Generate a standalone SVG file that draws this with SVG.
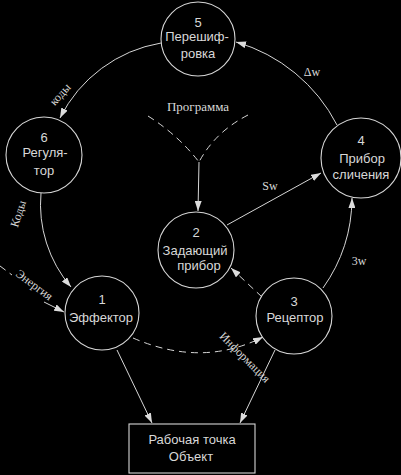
<svg xmlns="http://www.w3.org/2000/svg" width="401" height="475" viewBox="0 0 401 475">
<defs>
<marker id="ah" viewBox="0 0 10 7" refX="10" refY="3.5" markerWidth="10" markerHeight="7" markerUnits="userSpaceOnUse" orient="auto">
<path d="M0,0 L10,3.5 L0,7 z" fill="#dcdcdc"/>
</marker>
<style>
.n{fill:none;stroke:#d6d6d6;stroke-width:1.1}
.c{fill:none;stroke:#d6d6d6;stroke-width:1}
.d{stroke-dasharray:7 5}
.t{font-family:"Liberation Sans",Arial,sans-serif;font-size:13px;fill:#d8d8d8;text-anchor:middle}
.l{font-family:"Liberation Serif","Times New Roman",serif;font-size:12px;fill:#d8d8d8;text-anchor:middle}
</style>
</defs>
<rect x="0" y="0" width="401" height="475" fill="#000"/>
<g id="connectors">
<path class="c" d="M161 43 A139 139 0 0 0 60 118" marker-end="url(#ah)"/>
<path class="c" d="M337 125 A165 165 0 0 0 236 42" marker-end="url(#ah)"/>
<path class="c" d="M41 193 A127 127 0 0 0 71 287" marker-end="url(#ah)"/>
<path class="c" d="M323 288 A157 157 0 0 0 352 198" marker-end="url(#ah)"/>
<path class="c" d="M227 225 L321 173" marker-end="url(#ah)"/>
<path class="c d" d="M262 297 L231 268" marker-end="url(#ah)"/>
<path class="c d" d="M133 338 Q202 368 263 337" marker-end="url(#ah)"/>
<path class="c" d="M199 162 L198 211" marker-end="url(#ah)"/>
<path class="c d" d="M148 116 Q178 135 199 162"/>
<path class="c d" d="M248 115 Q215 132 199 162"/>
<path class="c d" d="M0 266 L12 275"/>
<path class="c" d="M44 302 L64 312" marker-end="url(#ah)"/>
<path class="c" d="M117 350 L152 423" marker-end="url(#ah)"/>
<path class="c" d="M275 350 L240 423" marker-end="url(#ah)"/>
</g>
<g id="labels">
<text class="l" x="312" y="76">Δw</text>
<text class="l" x="270" y="190">Sw</text>
<text class="l" x="359" y="265">3w</text>
<text class="l" x="198" y="111" style="font-size:13px">Программа</text>
<text class="l" transform="translate(22,215) rotate(-72)">Коды</text>
<text class="l" transform="translate(63,97) rotate(-48)">коды</text>
<text class="l" transform="translate(32,288) rotate(37)">Энергия</text>
<text class="l" transform="translate(242,360) rotate(45)">Информация</text>
</g>
<g id="n5"><circle class="n" cx="198" cy="39" r="37"/><text class="t" x="198" y="27">5</text><text class="t" x="197" y="41">Перешиф-</text><text class="t" x="198" y="58">ровка</text></g>
<g id="n6"><circle class="n" cx="44" cy="155" r="38"/><text class="t" x="44" y="142">6</text><text class="t" x="45" y="157">Регуля-</text><text class="t" x="44" y="175">тор</text></g>
<g id="n4"><circle class="n" cx="361" cy="158" r="40"/><text class="t" x="361" y="145">4</text><text class="t" x="362" y="163">Прибор</text><text class="t" x="361" y="179">сличения</text></g>
<g id="n2"><circle class="n" cx="196" cy="250" r="38"/><text class="t" x="196" y="237">2</text><text class="t" x="195" y="255">Задающий</text><text class="t" x="199" y="270">прибор</text></g>
<g id="n3"><circle class="n" cx="294" cy="316" r="38"/><text class="t" x="294" y="306">3</text><text class="t" x="295" y="322">Рецептор</text></g>
<g id="n1"><circle class="n" cx="102" cy="313" r="37"/><text class="t" x="102" y="304">1</text><text class="t" x="101" y="322">Эффектор</text></g>
<g id="n7"><rect class="n" x="129" y="424" width="126" height="49"/><text class="t" x="192" y="444">Рабочая точка</text><text class="t" x="191" y="461">Объект</text></g>
</svg>
